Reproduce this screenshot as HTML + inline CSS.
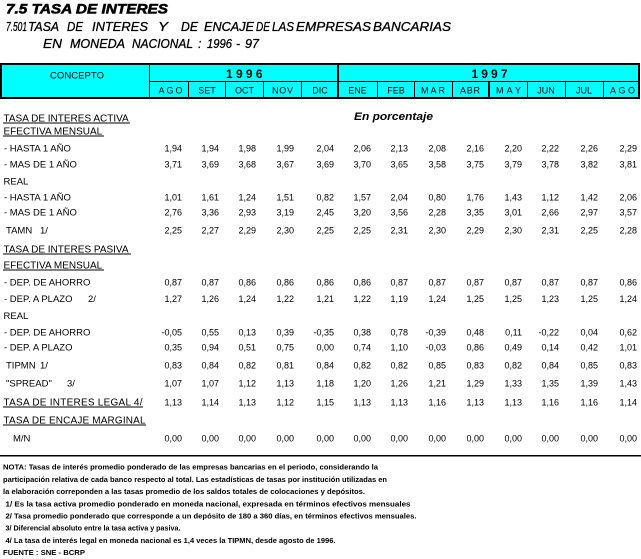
<!DOCTYPE html>
<html><head><meta charset="utf-8"><style>
html,body{margin:0;padding:0;background:#fff;}
svg{display:block;}
text{font-family:"Liberation Sans",Arial,sans-serif;fill:#000;}
.lb{font-size:9.5px;}
.hd{font-size:10px;}
.n{font-size:9px;text-anchor:end;}
.m{font-size:9px;text-anchor:middle;}
.f{font-size:7.5px;font-weight:bold;}
.st{font-size:12.5px;font-style:italic;stroke:#000;stroke-width:0.3;}
</style></head><body>
<svg width="641" height="559" viewBox="0 0 641 559" xmlns="http://www.w3.org/2000/svg">
<rect width="641" height="559" fill="#fff"/>
<!-- titles -->
<text x="6" y="13.5" font-size="14" font-weight="bold" font-style="italic" stroke="#000" stroke-width="0.6" textLength="162" lengthAdjust="spacingAndGlyphs">7.5 TASA DE INTERES</text>
<g>
<text class="st" x="6" y="31" textLength="21" lengthAdjust="spacingAndGlyphs">7.501</text>
<text class="st" x="28" y="31" textLength="31" lengthAdjust="spacingAndGlyphs">TASA</text>
<text class="st" x="67" y="31" textLength="16" lengthAdjust="spacingAndGlyphs">DE</text>
<text class="st" x="92" y="31" textLength="56" lengthAdjust="spacingAndGlyphs">INTERES</text>
<text class="st" x="158" y="31" textLength="10" lengthAdjust="spacingAndGlyphs">Y</text>
<text class="st" x="181" y="31" textLength="17" lengthAdjust="spacingAndGlyphs">DE</text>
<text class="st" x="204" y="31" textLength="50" lengthAdjust="spacingAndGlyphs">ENCAJE</text>
<text class="st" x="256" y="31" textLength="14" lengthAdjust="spacingAndGlyphs">DE</text>
<text class="st" x="272" y="31" textLength="22" lengthAdjust="spacingAndGlyphs">LAS</text>
<text class="st" x="296" y="31" textLength="75" lengthAdjust="spacingAndGlyphs">EMPRESAS</text>
<text class="st" x="373" y="31" textLength="78" lengthAdjust="spacingAndGlyphs">BANCARIAS</text>
<text class="st" x="43" y="48" textLength="19" lengthAdjust="spacingAndGlyphs">EN</text>
<text class="st" x="70" y="48" textLength="55" lengthAdjust="spacingAndGlyphs">MONEDA</text>
<text class="st" x="132" y="48" textLength="61" lengthAdjust="spacingAndGlyphs">NACIONAL</text>
<text class="st" x="198" y="48">:</text>
<text class="st" x="207" y="48" textLength="25" lengthAdjust="spacingAndGlyphs">1996</text>
<text class="st" x="236" y="48">-</text>
<text class="st" x="245" y="48" textLength="14" lengthAdjust="spacingAndGlyphs">97</text>
</g>

<!-- header table -->
<rect x="1" y="64" width="638" height="34" fill="#00ffff" stroke="#000" stroke-width="2"/>
<g stroke="#000" stroke-width="1">
<line x1="149.5" y1="64" x2="149.5" y2="98"/>
<line x1="149" y1="81.5" x2="639" y2="81.5"/>
<line x1="188.5" y1="81" x2="188.5" y2="98"/>
<line x1="225.5" y1="81" x2="225.5" y2="98"/>
<line x1="263.5" y1="81" x2="263.5" y2="98"/>
<line x1="301.5" y1="81" x2="301.5" y2="98"/>
<line x1="377.5" y1="81" x2="377.5" y2="98"/>
<line x1="414.5" y1="81" x2="414.5" y2="98"/>
<line x1="452.5" y1="81" x2="452.5" y2="98"/>
<line x1="527.5" y1="81" x2="527.5" y2="98"/>
<line x1="565.5" y1="81" x2="565.5" y2="98"/>
<line x1="603.5" y1="81" x2="603.5" y2="98"/>
</g>
<g stroke="#000" stroke-width="2">
<line x1="338" y1="64" x2="338" y2="98"/>
<line x1="489" y1="81" x2="489" y2="98"/>
</g>
<text x="50" y="78.5" font-size="9.5" textLength="54" lengthAdjust="spacing">CONCEPTO</text>
<text x="226" y="78" font-size="12" font-weight="bold" textLength="36.5" lengthAdjust="spacing">1996</text>
<text x="471.5" y="78" font-size="12" font-weight="bold" textLength="36" lengthAdjust="spacing">1997</text>
<text x="158.5" y="93.5" font-size="9" textLength="24" lengthAdjust="spacing">AGO</text>
<text class="m" x="207" y="93.5">SET</text>
<text class="m" x="244.5" y="93.5">OCT</text>
<text x="272" y="93.5" font-size="9" textLength="21" lengthAdjust="spacing">NOV</text>
<text class="m" x="320" y="93.5">DIC</text>
<text class="m" x="357.5" y="93.5">ENE</text>
<text class="m" x="396" y="93.5">FEB</text>
<text x="421" y="93.5" font-size="9" textLength="24" lengthAdjust="spacing">MAR</text>
<text x="460" y="93.5" font-size="9" textLength="20" lengthAdjust="spacing">ABR</text>
<text x="496" y="93.5" font-size="9" textLength="25" lengthAdjust="spacing">MAY</text>
<text class="m" x="546" y="93.5">JUN</text>
<text class="m" x="584" y="93.5">JUL</text>
<text x="610" y="93.5" font-size="9" textLength="25" lengthAdjust="spacing">AGO</text>

<text x="354" y="120" font-size="11" font-weight="bold" font-style="italic" textLength="79" lengthAdjust="spacingAndGlyphs">En porcentaje</text>

<!-- section headings with underline -->
<g stroke="#000" stroke-width="1">
<line x1="3" y1="123" x2="130" y2="123"/>
<line x1="3" y1="136" x2="104" y2="136"/>
<line x1="3" y1="254" x2="131" y2="254"/>
<line x1="3" y1="270" x2="104" y2="270"/>
<line x1="3" y1="407" x2="143" y2="407"/>
<line x1="3" y1="425" x2="146" y2="425"/>
</g>
<text class="hd" x="3.5" y="121.5">TASA DE INTERES ACTIVA</text>
<text class="hd" x="3.5" y="134.5">EFECTIVA MENSUAL</text>
<text class="hd" x="3.5" y="252.5">TASA DE INTERES PASIVA</text>
<text class="hd" x="3.5" y="268.5">EFECTIVA MENSUAL</text>
<text class="hd" x="3.5" y="405.5" textLength="139" lengthAdjust="spacing">TASA DE INTERES LEGAL 4/</text>
<text class="hd" x="3.5" y="423.5" textLength="142" lengthAdjust="spacing">TASA DE ENCAJE MARGINAL</text>

<!-- row labels -->
<text class="lb" x="4" y="151.3">- HASTA 1 AÑO</text>
<text class="lb" x="4" y="167.3">- MAS DE 1 AÑO</text>
<text class="lb" x="3.5" y="184.5">REAL</text>
<text class="lb" x="4" y="200.3">- HASTA 1 AÑO</text>
<text class="lb" x="4" y="215.3">- MAS DE 1 AÑO</text>
<text class="lb" x="6" y="233.3">TAMN</text><text class="lb" x="40" y="233.3">1/</text>
<text class="lb" x="4" y="285.5">- DEP. DE AHORRO</text>
<text class="lb" x="4" y="301.8">- DEP. A PLAZO</text><text class="lb" x="88" y="301.8">2/</text>
<text class="lb" x="3.5" y="318.8">REAL</text>
<text class="lb" x="4" y="335.3">- DEP. DE AHORRO</text>
<text class="lb" x="4" y="350.3">- DEP. A PLAZO</text>
<text class="lb" x="6" y="368.3">TIPMN</text><text class="lb" x="40" y="368.3">1/</text>
<text class="lb" x="6" y="386.3">"SPREAD"</text><text class="lb" x="67" y="386.3">3/</text>
<text class="lb" x="13" y="441.3">M/N</text>

<!-- numbers -->
<g class="n">
<text y="151.3"><tspan x="182">1,94</tspan><tspan x="219">1,94</tspan><tspan x="256">1,98</tspan><tspan x="294">1,99</tspan><tspan x="334">2,04</tspan><tspan x="371">2,06</tspan><tspan x="408">2,13</tspan><tspan x="446">2,08</tspan><tspan x="484">2,16</tspan><tspan x="522">2,20</tspan><tspan x="559">2,22</tspan><tspan x="598">2,26</tspan><tspan x="637">2,29</tspan></text>
<text y="167.3"><tspan x="182">3,71</tspan><tspan x="219">3,69</tspan><tspan x="256">3,68</tspan><tspan x="294">3,67</tspan><tspan x="334">3,69</tspan><tspan x="371">3,70</tspan><tspan x="408">3,65</tspan><tspan x="446">3,58</tspan><tspan x="484">3,75</tspan><tspan x="522">3,79</tspan><tspan x="559">3,78</tspan><tspan x="598">3,82</tspan><tspan x="637">3,81</tspan></text>
<text y="200.3"><tspan x="182">1,01</tspan><tspan x="219">1,61</tspan><tspan x="256">1,24</tspan><tspan x="294">1,51</tspan><tspan x="334">0,82</tspan><tspan x="371">1,57</tspan><tspan x="408">2,04</tspan><tspan x="446">0,80</tspan><tspan x="484">1,76</tspan><tspan x="522">1,43</tspan><tspan x="559">1,12</tspan><tspan x="598">1,42</tspan><tspan x="637">2,06</tspan></text>
<text y="215.3"><tspan x="182">2,76</tspan><tspan x="219">3,36</tspan><tspan x="256">2,93</tspan><tspan x="294">3,19</tspan><tspan x="334">2,45</tspan><tspan x="371">3,20</tspan><tspan x="408">3,56</tspan><tspan x="446">2,28</tspan><tspan x="484">3,35</tspan><tspan x="522">3,01</tspan><tspan x="559">2,66</tspan><tspan x="598">2,97</tspan><tspan x="637">3,57</tspan></text>
<text y="233.3"><tspan x="182">2,25</tspan><tspan x="219">2,27</tspan><tspan x="256">2,29</tspan><tspan x="294">2,30</tspan><tspan x="334">2,25</tspan><tspan x="371">2,25</tspan><tspan x="408">2,31</tspan><tspan x="446">2,30</tspan><tspan x="484">2,29</tspan><tspan x="522">2,30</tspan><tspan x="559">2,31</tspan><tspan x="598">2,25</tspan><tspan x="637">2,28</tspan></text>
<text y="285.5"><tspan x="182">0,87</tspan><tspan x="219">0,87</tspan><tspan x="256">0,86</tspan><tspan x="294">0,86</tspan><tspan x="334">0,86</tspan><tspan x="371">0,86</tspan><tspan x="408">0,87</tspan><tspan x="446">0,87</tspan><tspan x="484">0,87</tspan><tspan x="522">0,87</tspan><tspan x="559">0,87</tspan><tspan x="598">0,87</tspan><tspan x="637">0,86</tspan></text>
<text y="301.8"><tspan x="182">1,27</tspan><tspan x="219">1,26</tspan><tspan x="256">1,24</tspan><tspan x="294">1,22</tspan><tspan x="334">1,21</tspan><tspan x="371">1,22</tspan><tspan x="408">1,19</tspan><tspan x="446">1,24</tspan><tspan x="484">1,25</tspan><tspan x="522">1,25</tspan><tspan x="559">1,23</tspan><tspan x="598">1,25</tspan><tspan x="637">1,24</tspan></text>
<text y="335.3"><tspan x="182">-0,05</tspan><tspan x="219">0,55</tspan><tspan x="256">0,13</tspan><tspan x="294">0,39</tspan><tspan x="334">-0,35</tspan><tspan x="371">0,38</tspan><tspan x="408">0,78</tspan><tspan x="446">-0,39</tspan><tspan x="484">0,48</tspan><tspan x="522">0,11</tspan><tspan x="559">-0,22</tspan><tspan x="598">0,04</tspan><tspan x="637">0,62</tspan></text>
<text y="350.3"><tspan x="182">0,35</tspan><tspan x="219">0,94</tspan><tspan x="256">0,51</tspan><tspan x="294">0,75</tspan><tspan x="334">0,00</tspan><tspan x="371">0,74</tspan><tspan x="408">1,10</tspan><tspan x="446">-0,03</tspan><tspan x="484">0,86</tspan><tspan x="522">0,49</tspan><tspan x="559">0,14</tspan><tspan x="598">0,42</tspan><tspan x="637">1,01</tspan></text>
<text y="368.3"><tspan x="182">0,83</tspan><tspan x="219">0,84</tspan><tspan x="256">0,82</tspan><tspan x="294">0,81</tspan><tspan x="334">0,84</tspan><tspan x="371">0,82</tspan><tspan x="408">0,82</tspan><tspan x="446">0,85</tspan><tspan x="484">0,83</tspan><tspan x="522">0,82</tspan><tspan x="559">0,84</tspan><tspan x="598">0,85</tspan><tspan x="637">0,83</tspan></text>
<text y="386.3"><tspan x="182">1,07</tspan><tspan x="219">1,07</tspan><tspan x="256">1,12</tspan><tspan x="294">1,13</tspan><tspan x="334">1,18</tspan><tspan x="371">1,20</tspan><tspan x="408">1,26</tspan><tspan x="446">1,21</tspan><tspan x="484">1,29</tspan><tspan x="522">1,33</tspan><tspan x="559">1,35</tspan><tspan x="598">1,39</tspan><tspan x="637">1,43</tspan></text>
<text y="405.3"><tspan x="182">1,13</tspan><tspan x="219">1,14</tspan><tspan x="256">1,13</tspan><tspan x="294">1,12</tspan><tspan x="334">1,15</tspan><tspan x="371">1,13</tspan><tspan x="408">1,13</tspan><tspan x="446">1,16</tspan><tspan x="484">1,13</tspan><tspan x="522">1,13</tspan><tspan x="559">1,16</tspan><tspan x="598">1,16</tspan><tspan x="637">1,14</tspan></text>
<text y="441.3"><tspan x="182">0,00</tspan><tspan x="219">0,00</tspan><tspan x="256">0,00</tspan><tspan x="294">0,00</tspan><tspan x="334">0,00</tspan><tspan x="371">0,00</tspan><tspan x="408">0,00</tspan><tspan x="446">0,00</tspan><tspan x="484">0,00</tspan><tspan x="522">0,00</tspan><tspan x="559">0,00</tspan><tspan x="598">0,00</tspan><tspan x="637">0,00</tspan></text>
</g>

<!-- bottom rule -->
<rect x="0" y="455" width="641" height="1.5" fill="#000"/>

<!-- notes -->
<text class="f" x="3" y="469.7" textLength="375" lengthAdjust="spacingAndGlyphs">NOTA: Tasas de interés promedio ponderado de las empresas bancarias en el periodo, considerando la</text>
<text class="f" x="3" y="481.9" textLength="384" lengthAdjust="spacingAndGlyphs">participación relativa de cada banco respecto al total.  Las estadísticas de tasas por institución utilizadas en</text>
<text class="f" x="3" y="494.1" textLength="362" lengthAdjust="spacingAndGlyphs">la elaboración correponden a las tasas promedio de los saldos totales de colocaciones y depósitos.</text>
<text class="f" x="5.5" y="506.3" textLength="405" lengthAdjust="spacingAndGlyphs">1/ Es la tasa activa promedio ponderado en moneda nacional, expresada en términos efectivos mensuales</text>
<text class="f" x="5.5" y="518.5" textLength="411" lengthAdjust="spacingAndGlyphs">2/ Tasa promedio ponderado que corresponde a un depósito de 180 a 360 días, en términos efectivos mensuales.</text>
<text class="f" x="5.5" y="530.7" textLength="175" lengthAdjust="spacingAndGlyphs">3/ Diferencial absoluto entre la tasa activa y pasiva.</text>
<text class="f" x="5.5" y="542.9" textLength="330" lengthAdjust="spacingAndGlyphs">4/ La tasa de interés legal en moneda nacional es 1,4 veces la TIPMN, desde agosto de 1996.</text>
<text class="f" x="3" y="555.1" textLength="82" lengthAdjust="spacingAndGlyphs">FUENTE : SNE - BCRP</text>
</svg>
</body></html>
